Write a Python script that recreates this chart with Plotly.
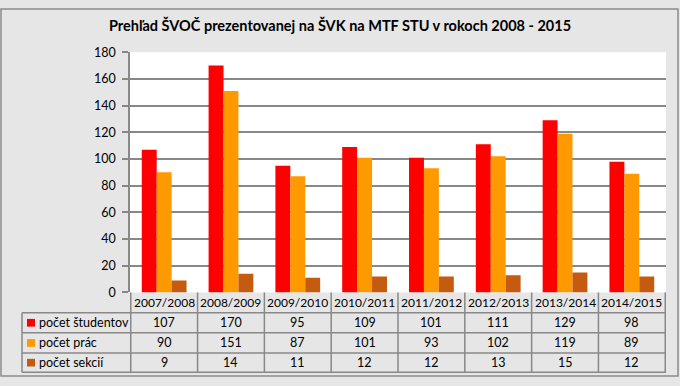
import plotly.graph_objects as go

W, H = 680, 386

title = "Prehľad ŠVOČ prezentovanej na ŠVK na MTF STU v rokoch 2008 - 2015"
categories = ["2007/2008", "2008/2009", "2009/2010", "2010/2011",
              "2011/2012", "2012/2013", "2013/2014", "2014/2015"]
series_names = ["počet študentov", "počet prác", "počet sekcií"]
studenti = [107, 170, 95, 109, 101, 111, 129, 98]
prace = [90, 151, 87, 101, 93, 102, 119, 89]
sekcie = [9, 14, 11, 12, 12, 13, 15, 12]
series_values = [studenti, prace, sekcie]
colors = ["#FF0000", "#FF9900", "#C55A11"]
y_ticks = list(range(0, 181, 20))

FONT = "Lato"
GRID = "#888888"
BG = "#E6E6E6"
FS_NUM = 12
FS_LBL = 12.5

def px(x):
    return x / W

def py(y):
    return 1 - y / H

plot_left, plot_right = 130, 666
plot_top, plot_bottom = 46, 296
row_lines = [296, 317, 338, 359, 379]
legend_left = 22

fig = go.Figure()
for name, vals, col in zip(series_names, series_values, colors):
    fig.add_trace(go.Bar(x=categories, y=vals, name=name, marker_color=col,
                         marker_line_width=0, showlegend=False))

shapes = []
annotations = []
n = len(categories)
for ry in row_lines[1:]:
    shapes.append(dict(type="line", xref="paper", yref="paper",
                       x0=px(legend_left), x1=px(plot_right), y0=py(ry), y1=py(ry),
                       line=dict(color=GRID, width=1.5)))
for i in range(n + 1):
    shapes.append(dict(type="line", xref="x", yref="paper",
                       x0=i - 0.5, x1=i - 0.5, y0=py(row_lines[0]), y1=py(row_lines[-1]),
                       line=dict(color=GRID, width=1.5)))
shapes.append(dict(type="line", xref="paper", yref="paper",
                   x0=px(legend_left), x1=px(legend_left), y0=py(row_lines[1]), y1=py(row_lines[-1]),
                   line=dict(color=GRID, width=1.5)))
shapes.append(dict(type="rect", xref="paper", yref="paper",
                   x0=px(1), x1=px(678), y0=py(383), y1=py(1),
                   line=dict(color="#8C8C8C", width=1.5)))

for c in categories:
    annotations.append(dict(x=c, xref="x", y=py((row_lines[0] + row_lines[1]) / 2), yref="paper",
                            text=c, showarrow=False, font=dict(family=FONT, size=FS_NUM, color="#000"),
                            xanchor="center", yanchor="middle"))
for r, (name, vals, col) in enumerate(zip(series_names, series_values, colors)):
    yc = (row_lines[r + 1] + row_lines[r + 2]) / 2
    shapes.append(dict(type="rect", xref="paper", yref="paper",
                       x0=px(27), x1=px(35), y0=py(yc - 4), y1=py(yc + 4),
                       fillcolor=col, line=dict(width=0)))
    annotations.append(dict(x=px(37), xref="paper", y=py(yc), yref="paper",
                            text=name, showarrow=False, font=dict(family=FONT, size=FS_LBL, color="#000"),
                            xanchor="left", yanchor="middle"))
    for c, v in zip(categories, vals):
        annotations.append(dict(x=c, xref="x", y=py(yc), yref="paper",
                                text=str(v), showarrow=False,
                                font=dict(family=FONT, size=FS_NUM + 0.5, color="#000"),
                                xanchor="center", yanchor="middle"))

fig.update_layout(
    width=W, height=H,
    margin=dict(l=0, r=0, t=0, b=0),
    paper_bgcolor=BG, plot_bgcolor="#FFFFFF",
    barmode="group", bargap=0.33, bargroupgap=0,
    title=dict(text="<b>" + title + "</b>", x=0.5, xanchor="center",
               y=py(19), yanchor="middle", yref="paper",
               font=dict(family=FONT, size=14.5, color="#000")),
    xaxis=dict(domain=[px(plot_left), px(plot_right)], showticklabels=False,
               showgrid=False, zeroline=False, showline=False, ticks=""),
    yaxis=dict(domain=[py(plot_bottom), py(plot_top)], range=[0, 180],
               tickvals=y_ticks, showgrid=True, gridcolor=GRID, gridwidth=1.5,
               zeroline=False, showline=True, linecolor=GRID, linewidth=1.5,
               ticks="outside", ticklen=6, tickcolor=GRID, tickwidth=1.5,
               ticklabelstandoff=4,
               tickfont=dict(family=FONT, size=FS_NUM + 0.5, color="#000")),
    shapes=shapes, annotations=annotations,
)

post = ("document.body.style.margin='0';document.body.style.padding='0';"
        "var d=document.getElementById('{plot_id}');d.style.position='fixed';"
        "d.style.left='0px';d.style.top='0px';")
fig.write_html("out.html", post_script=post, config={"displayModeBar": False})
